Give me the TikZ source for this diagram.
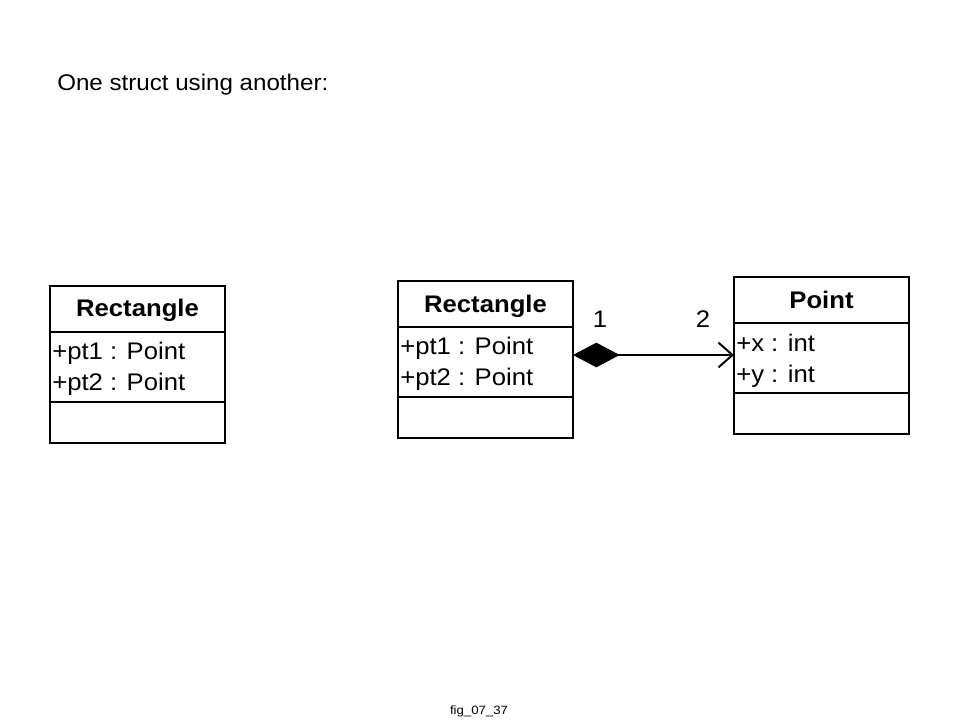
\documentclass[tikz,border=0pt]{standalone}
\usepackage{fontspec}
\setmainfont{Liberation Sans}
\newfontfamily\boxfont[FakeStretch=1.07]{Liberation Sans}
\newfontfamily\titlefont[FakeStretch=1.065]{Liberation Sans}
\newfontfamily\capfont[FakeStretch=1.1]{Liberation Sans}
\usetikzlibrary{arrows.meta}
\begin{document}
\begin{tikzpicture}[x=0.75pt,y=-0.75pt,
  comp/.style={draw, line width=1.8pt, outer sep=0pt, inner sep=0pt,
    minimum width=131.25pt, anchor=north west},
  hdbox/.style={comp, minimum height=34.5pt},
  atbox/.style={comp, minimum height=52.5pt},
  opbox/.style={comp, minimum height=30.75pt},
  hdtext/.style={anchor=base, inner sep=0pt, font=\boxfont\bfseries\fontsize{18pt}{20pt}\selectfont},
  attext/.style={anchor=base west, inner sep=0pt, font=\boxfont\fontsize{18pt}{20pt}\selectfont},
  mult/.style={anchor=base, inner sep=0pt, font=\boxfont\fontsize{18pt}{20pt}\selectfont},
  assoc/.style={line width=1.5pt,
    {Diamond[length=35pt,width=18.5pt]}-{Straight Barb[length=10.5pt,width=18.5pt]}}]
\fill[white] (0,0) rectangle (960,720);
\useasboundingbox (0,0) rectangle (960,720);

% title
\node[anchor=base west, inner sep=0pt, font=\titlefont\fontsize{17pt}{20pt}\selectfont] (title) at (57,91) {One struct using another:};

% left Rectangle
\node[hdbox] (lh) at (50,286) {};
\node[atbox] (la) at (lh.south west) {};
\node[opbox] (lo) at (la.south west) {};
\node[hdtext] (lht) at (137.5,316) {Rectangle};
\node[attext] (la1) at (52,359) {+pt1 : Point};
\node[attext] (la2) at (52,390) {+pt2 : Point};

% middle Rectangle
\node[hdbox] (mh) at (398,281) {};
\node[atbox] (ma) at (mh.south west) {};
\node[opbox] (mo) at (ma.south west) {};
\node[hdtext] (mht) at (485.5,312) {Rectangle};
\node[attext] (ma1) at (400,354) {+pt1 : Point};
\node[attext] (ma2) at (400,385) {+pt2 : Point};

% Point
\node[hdbox] (ph) at (734,277) {};
\node[atbox] (pa) at (ph.south west) {};
\node[opbox] (po) at (pa.south west) {};
\node[hdtext] (pht) at (821.5,308) {Point};
\node[attext] (pa1) at (736,351) {+x : int};
\node[attext] (pa2) at (736,382) {+y : int};

% association
\coordinate (ay) at (0,355);
\draw[assoc] (ma.east |- ay) -- (pa.west |- ay);
\node[mult] (m1) at (600,327) {1};
\node[mult] (m2) at (703,327) {2};

% caption
\node[anchor=base, inner sep=0pt, font=\capfont\fontsize{9pt}{10pt}\selectfont] (cap) at (479,714) {fig\_07\_37};
\end{tikzpicture}
\end{document}
